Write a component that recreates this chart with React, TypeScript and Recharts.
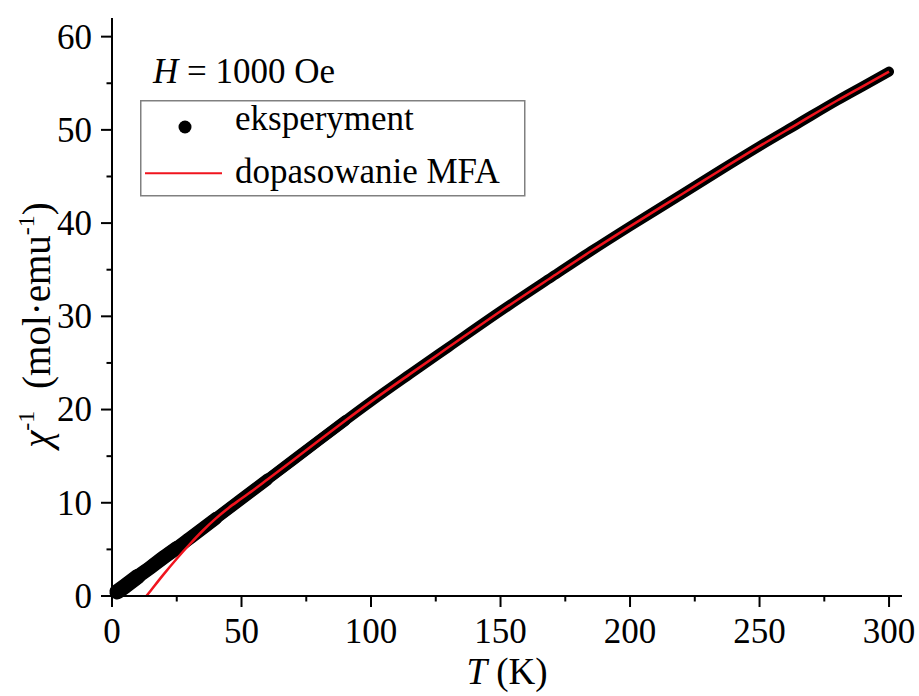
import React from 'react';
import { ComposedChart, Line, XAxis, YAxis, Label, Legend } from 'recharts';

const FONT = 'Liberation Serif';
const fontStyle = { fontFamily: FONT };

// experimental chi^-1 (T)
const expT = [2, 5, 10, 15, 20, 25, 30, 40, 50, 60, 70, 80, 90, 100, 115, 130, 150, 170, 185, 200, 220, 235, 250, 265, 280, 290, 300];
const expChi = [0.45, 1.05, 2.1, 3.1, 4.15, 5.15, 6.2, 8.3, 10.4, 12.5, 14.6, 16.7, 18.8, 20.85, 23.8, 26.7, 30.55, 34.25, 37.0, 39.65, 43.1, 45.7, 48.25, 50.7, 53.15, 54.7, 56.25];

// MFA fit
const fitT = [13.3, 15, 20, 25, 30, 35, 40, 45, 50, 55, 60, 70, 80, 90, 100, 115, 130, 150, 170, 185, 200, 220, 235, 250, 265, 280, 290, 300];
const fitChi = [0, 0.6, 2.35, 4.0, 5.55, 7.0, 8.3, 9.45, 10.45, 11.45, 12.5, 14.6, 16.7, 18.8, 20.85, 23.8, 26.7, 30.55, 34.25, 37.0, 39.65, 43.1, 45.7, 48.25, 50.7, 53.15, 54.7, 56.25];

const xTicks = [0, 25, 50, 75, 100, 125, 150, 175, 200, 225, 250, 275, 300];
const yTicks = [0, 5, 10, 15, 20, 25, 30, 35, 40, 45, 50, 55, 60];
const xDomain = [0, 305];
const yDomain = [0, 62];

const legendLabels = ['eksperyment', 'dopasowanie MFA'];
const fieldText = { sym: 'H', rest: '\u00a0=\u00a01000\u00a0Oe' };

const expData = expT.map((T, i) => ({ T, chi: expChi[i] }));
const bandSteps = [
  { maxT: 90, width: 10.8 },
  { maxT: 60, width: 11.8 },
  { maxT: 40, width: 13 },
  { maxT: 25, width: 14.2 },
  { maxT: 12, width: 15.5 },
];
const fitData = fitT.map((T, i) => ({ T, chi: fitChi[i] }));

const isMajorX = (v: number) => v % 50 === 0;
const isMajorY = (v: number) => v % 10 === 0;

const BottomTick = (props: any) => {
  const { x, y, payload } = props;
  const major = isMajorX(payload.value);
  return (
    <g>
      <line x1={x} x2={x} y1={y} y2={y + (major ? 11 : 5.5)} stroke="#000" strokeWidth={2} />
      {major && (
        <text x={x} y={y + 47} textAnchor="middle" style={fontStyle} fontSize={35} fill="#000">
          {payload.value}
        </text>
      )}
    </g>
  );
};

const TopTick = (props: any) => {
  const { x, y, payload } = props;
  const major = isMajorX(payload.value);
  return <line x1={x} x2={x} y1={y} y2={y + (major ? 11 : 5.5)} stroke="#000" strokeWidth={2} />;
};

const LeftTick = (props: any) => {
  const { x, y, payload } = props;
  const major = isMajorY(payload.value);
  return (
    <g>
      <line x1={x - (major ? 11 : 5.5)} x2={x} y1={y} y2={y} stroke="#000" strokeWidth={2} />
      {major && (
        <text x={x - 20} y={y} dy="0.34em" textAnchor="end" style={fontStyle} fontSize={35} fill="#000">
          {payload.value}
        </text>
      )}
    </g>
  );
};

const RightTick = (props: any) => {
  const { x, y, payload } = props;
  const major = isMajorY(payload.value);
  return <line x1={x - (major ? 11 : 5.5)} x2={x} y1={y} y2={y} stroke="#000" strokeWidth={2} />;
};

const YTitle = (props: any) => {
  const vb = props.viewBox || { x: 0, y: 18, width: 112, height: 578 };
  const cx = vb.x + 50;
  const cy = vb.y + vb.height / 2 + 18;
  return (
    <text
      transform={`rotate(-90 ${cx} ${cy})`}
      x={cx}
      y={cy}
      textAnchor="middle"
      style={fontStyle}
      fontSize={39}
      fill="#000"
    >
      <tspan fontStyle="italic">χ</tspan>
      <tspan fontSize={24} dy={-16}>-1</tspan>
      <tspan dy={16} dx={12}>{'\u00a0(mol·emu'}</tspan>
      <tspan fontSize={24} dy={-16}>-1</tspan>
      <tspan dy={16}>)</tspan>
    </text>
  );
};

const XTitle = (props: any) => {
  const vb = props.viewBox || { x: 112, y: 596, width: 790, height: 100 };
  const cx = vb.x + vb.width / 2;
  const cy = vb.y + 88;
  return (
    <text x={cx} y={cy} textAnchor="middle" style={fontStyle} fontSize={37} fill="#000">
      <tspan fontStyle="italic">T</tspan>
      <tspan>{'\u00a0(K)'}</tspan>
    </text>
  );
};

const LegendBox = () => (
  <svg width={386} height={147} style={{ display: 'block', overflow: 'visible' }}>
    <text x={13} y={33} style={fontStyle} fontSize={35} fill="#000">
      <tspan fontStyle="italic">{fieldText.sym}</tspan>
      <tspan>{fieldText.rest}</tspan>
    </text>
    <rect x={0.75} y={50.75} width={384} height={95} fill="#fff" stroke="#808080" strokeWidth={1.5} />
    <circle cx={45} cy={77} r={6.5} fill="#000" />
    <text x={95} y={80} style={fontStyle} fontSize={35} fill="#000">
      {legendLabels[0]}
    </text>
    <line x1={5} x2={82} y1={123.3} y2={123.3} stroke="#f0141e" strokeWidth={2} />
    <text x={95} y={133} style={fontStyle} fontSize={35} fill="#000">
      {legendLabels[1]}
    </text>
  </svg>
);

export default function App() {
  return (
    <div style={{ position: 'absolute', left: 0, top: 0, width: 919, height: 696, background: '#fff' }}>
      <ComposedChart width={919} height={696} margin={{ top: 18, right: 17, left: 0, bottom: 0 }}>
        <XAxis
          xAxisId="bottom"
          dataKey="T"
          type="number"
          orientation="bottom"
          domain={xDomain}
          ticks={xTicks}
          interval={0}
          height={100}
          tickSize={0}
          tickMargin={0}
          tickLine={false}
          tick={<BottomTick />}
          axisLine={{ stroke: '#000', strokeWidth: 2 }}
        >
          <Label content={<XTitle />} />
        </XAxis>
        <XAxis
          xAxisId="top"
          dataKey="T"
          type="number"
          orientation="top"
          domain={xDomain}
          ticks={xTicks}
          interval={0}
          height={0}
          tickSize={0}
          tickMargin={0}
          tickLine={false}
          tick={<TopTick />}
          axisLine={{ stroke: '#000', strokeWidth: 2 }}
        />
        <YAxis
          yAxisId="left"
          type="number"
          orientation="left"
          domain={yDomain}
          ticks={yTicks}
          interval={0}
          width={112}
          tickSize={0}
          tickMargin={0}
          tickLine={false}
          tick={<LeftTick />}
          axisLine={{ stroke: '#000', strokeWidth: 2 }}
        >
          <Label content={<YTitle />} />
        </YAxis>
        <YAxis
          yAxisId="right"
          type="number"
          orientation="right"
          domain={yDomain}
          ticks={yTicks}
          interval={0}
          width={0}
          tickSize={0}
          tickMargin={0}
          tickLine={false}
          tick={<RightTick />}
          axisLine={{ stroke: '#000', strokeWidth: 2 }}
        />
        <Legend
          layout="vertical"
          align="center"
          verticalAlign="middle"
          content={<LegendBox />}
          wrapperStyle={{ left: 140, top: 50, width: 386, height: 147, margin: 0, padding: 0 }}
        />
        <Line
          xAxisId="top"
          yAxisId="right"
          data={expData}
          dataKey="chi"
          stroke="none"
          dot={false}
          legendType="none"
          isAnimationActive={false}
        />
        <Line
          xAxisId="bottom"
          yAxisId="left"
          data={expData}
          dataKey="chi"
          type="monotone"
          stroke="#000"
          strokeWidth={10}
          strokeLinecap="round"
          strokeLinejoin="round"
          dot={false}
          isAnimationActive={false}
        />
        {bandSteps.map((s) => (
          <Line
            key={s.maxT}
            xAxisId="bottom"
            yAxisId="left"
            data={expData.filter((d) => d.T <= s.maxT)}
            dataKey="chi"
            type="monotone"
            stroke="#000"
            strokeWidth={s.width}
            strokeLinecap="round"
            strokeLinejoin="round"
            dot={false}
            legendType="none"
            isAnimationActive={false}
          />
        ))}
        <Line
          xAxisId="bottom"
          yAxisId="left"
          data={fitData}
          dataKey="chi"
          type="monotone"
          stroke="#f0141e"
          strokeWidth={2.5}
          dot={false}
          isAnimationActive={false}
        />
      </ComposedChart>
    </div>
  );
}
